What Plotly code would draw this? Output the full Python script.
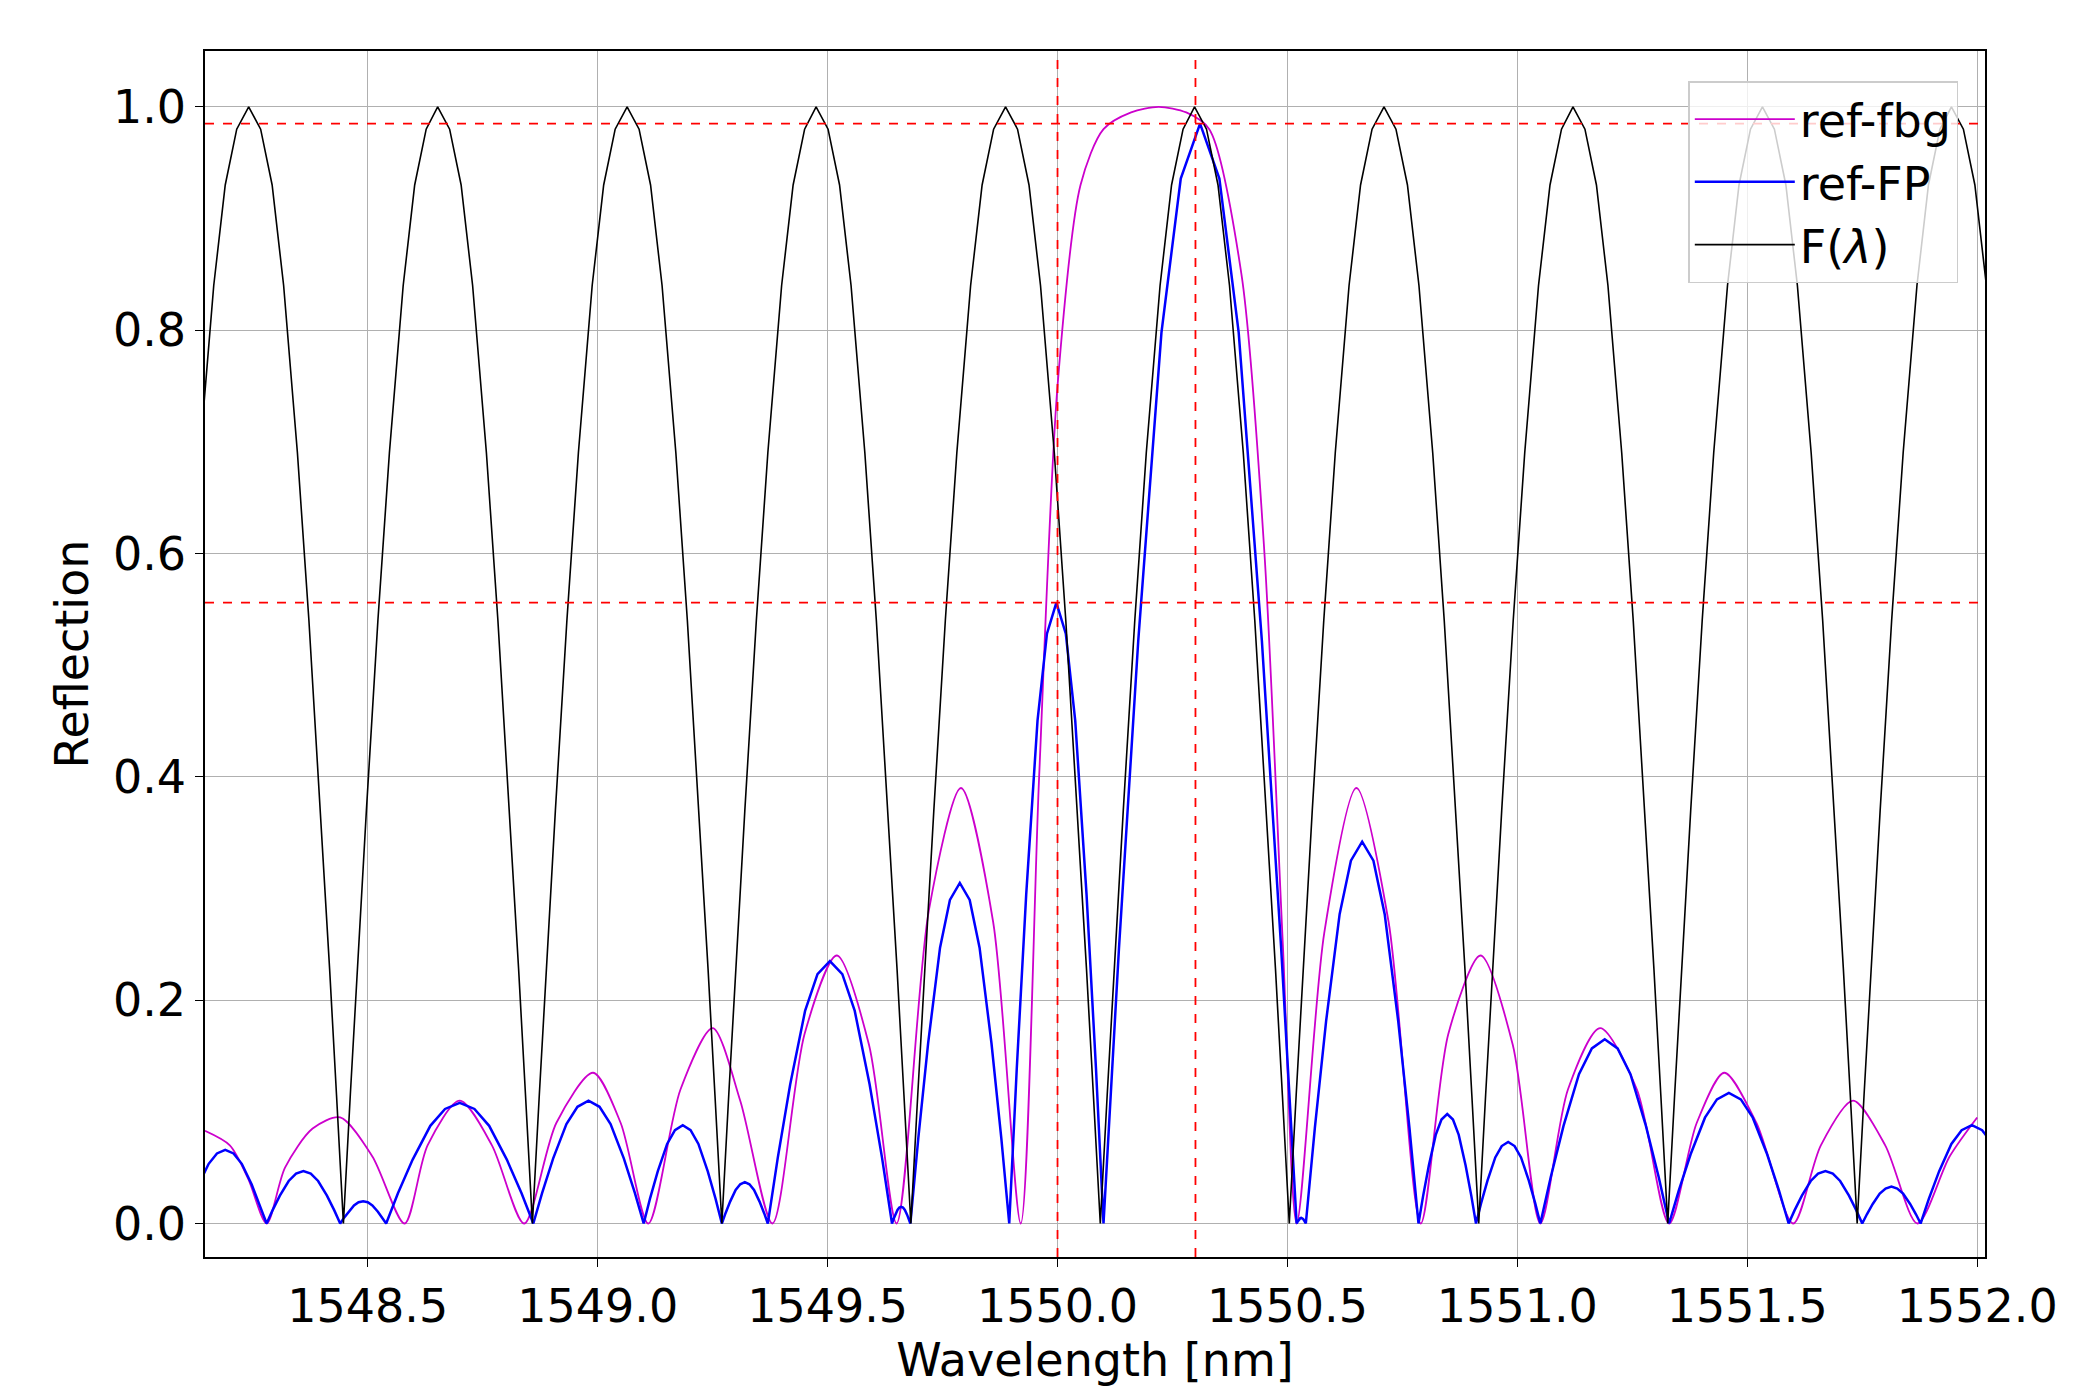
import plotly.graph_objects as go

# F(lambda): zeros of the comb and a read-off lobe profile (offset from zero, value)
F_zeros = [1548.035, 1548.447, 1548.858, 1549.270, 1549.681, 1550.093, 1550.504, 1550.916, 1551.327, 1551.739, 1552.150]
F_prof_d = [0.0, 0.015, 0.03, 0.05, 0.075, 0.1, 0.13, 0.155, 0.18, 0.206]
F_prof_v = [0.0, 0.115, 0.228, 0.37, 0.54, 0.69, 0.84, 0.93, 0.98, 1.0]

# ref-fbg (magenta)
fbg_x = [1548.146, 1548.20, 1548.24, 1548.28, 1548.32, 1548.38, 1548.44, 1548.51, 1548.58,
         1548.63, 1548.70, 1548.77, 1548.84, 1548.91, 1548.99, 1549.05, 1549.11, 1549.18, 1549.25, 1549.31, 1549.38,
         1549.45, 1549.52, 1549.59, 1549.65, 1549.72, 1549.79, 1549.86, 1549.92, 1549.96, 1550.00, 1550.05,
         1550.10, 1550.16, 1550.22, 1550.28, 1550.33, 1550.40, 1550.45, 1550.49, 1550.52, 1550.58, 1550.65,
         1550.72, 1550.79, 1550.85, 1550.92, 1550.99, 1551.05, 1551.11, 1551.18, 1551.26, 1551.33, 1551.39,
         1551.45, 1551.52, 1551.60, 1551.66, 1551.73, 1551.80, 1551.87, 1551.94, 1552.00]
fbg_y = [0.083, 0.07, 0.04, 0.0, 0.05, 0.085, 0.095, 0.06, 0.0,
         0.07, 0.11, 0.07, 0.0, 0.09, 0.135, 0.09, 0.0, 0.12, 0.175, 0.11, 0.0,
         0.17, 0.24, 0.16, 0.0, 0.28, 0.39, 0.27, 0.0, 0.40, 0.75, 0.93,
         0.98, 0.995, 1.0, 0.995, 0.98, 0.85, 0.60, 0.25, 0.0, 0.26, 0.39,
         0.27, 0.0, 0.17, 0.24, 0.16, 0.0, 0.12, 0.175, 0.12, 0.0, 0.09,
         0.135, 0.09, 0.0, 0.07, 0.11, 0.07, 0.0, 0.06, 0.095]

# ref-FP (blue): lobe zeros and lobe peaks
fp_zeros = [1548.10, 1548.28, 1548.44, 1548.54, 1548.86, 1549.10, 1549.27, 1549.37, 1549.64, 1549.68,
            1549.895, 1550.10, 1550.52, 1550.54, 1550.785, 1550.91, 1551.05, 1551.33, 1551.59, 1551.75, 1551.877, 1552.10]
fp_peaks = [0.066, 0.047, 0.02, 0.108, 0.11, 0.088, 0.037, 0.235, 0.015, 0.305,
            0.556, 0.985, 0.005, 0.342, 0.098, 0.073, 0.165, 0.117, 0.047, 0.033, 0.088]
lobe_f = [0.0, 0.08, 0.18, 0.3, 0.4, 0.5, 0.6, 0.7, 0.82, 0.92, 1.0]
lobe_v = [0.0, 0.25, 0.53, 0.81, 0.95, 1.0, 0.95, 0.81, 0.53, 0.25, 0.0]

vlines = [1550.0, 1550.30]
hlines = [0.985, 0.556]

Fx, Fy = [], []
for z in F_zeros:
    for d, v in zip(reversed(F_prof_d), reversed(F_prof_v)):
        Fx.append(z - d); Fy.append(v)
    for d, v in zip(F_prof_d[1:-1], F_prof_v[1:-1]):
        Fx.append(z + d); Fy.append(v)

fpx, fpy = [], []
for i, p in enumerate(fp_peaks):
    a, b = fp_zeros[i], fp_zeros[i + 1]
    for f, v in zip(lobe_f, lobe_v):
        if i > 0 and f == 0.0:
            continue
        fpx.append(a + f * (b - a)); fpy.append(v * p)

fig = go.Figure()
fig.add_trace(go.Scatter(x=fbg_x, y=fbg_y, mode="lines", name="ref-fbg",
                         line=dict(color="#cc00cc", width=1.8, shape="spline", smoothing=0.8)))
fig.add_trace(go.Scatter(x=fpx, y=fpy, mode="lines", name="ref-FP",
                         line=dict(color="#0000ff", width=2.5)))
fig.add_trace(go.Scatter(x=Fx, y=Fy, mode="lines", name="F(<i>λ</i>)",
                         line=dict(color="black", width=1.6)))
for v in vlines:
    fig.add_vline(x=v, line=dict(color="red", dash="dash", width=1.8))
for h in hlines:
    fig.add_hline(y=h, line=dict(color="red", dash="dash", width=1.8))

axis = dict(showgrid=True, gridcolor="#b0b0b0", gridwidth=1.2, showline=True, linecolor="black",
            linewidth=1.5, mirror=True, ticks="outside", ticklen=8, tickcolor="black",
            tickfont=dict(size=46, color="black"), zeroline=False)
fig.update_xaxes(range=[1548.146, 1552.017], tickvals=[1548.5, 1549.0, 1549.5, 1550.0, 1550.5, 1551.0, 1551.5, 1552.0],
                 ticktext=["1548.5", "1549.0", "1549.5", "1550.0", "1550.5", "1551.0", "1551.5", "1552.0"],
                 title=dict(text="Wavelength [nm]", font=dict(size=46, color="black"), standoff=8), **axis)
fig.update_yaxes(range=[-0.03, 1.05], tickvals=[0, 0.2, 0.4, 0.6, 0.8, 1.0],
                 ticktext=["0.0", "0.2", "0.4", "0.6", "0.8", "1.0"],
                 title=dict(text="Reflection", font=dict(size=46, color="black"), standoff=10), **axis)
fig.update_layout(width=2078, height=1400, plot_bgcolor="white", paper_bgcolor="white",
                  font=dict(family="DejaVu Sans", color="black"),
                  margin=dict(l=197, r=101, t=43, b=151),
                  showlegend=True,
                  legend=dict(x=0.985, y=0.975, xanchor="right", yanchor="top",
                              bgcolor="rgba(255,255,255,0.8)", bordercolor="#cccccc", borderwidth=1.5,
                              font=dict(size=46, color="black"), itemwidth=100))
fig.write_html("out.html")
